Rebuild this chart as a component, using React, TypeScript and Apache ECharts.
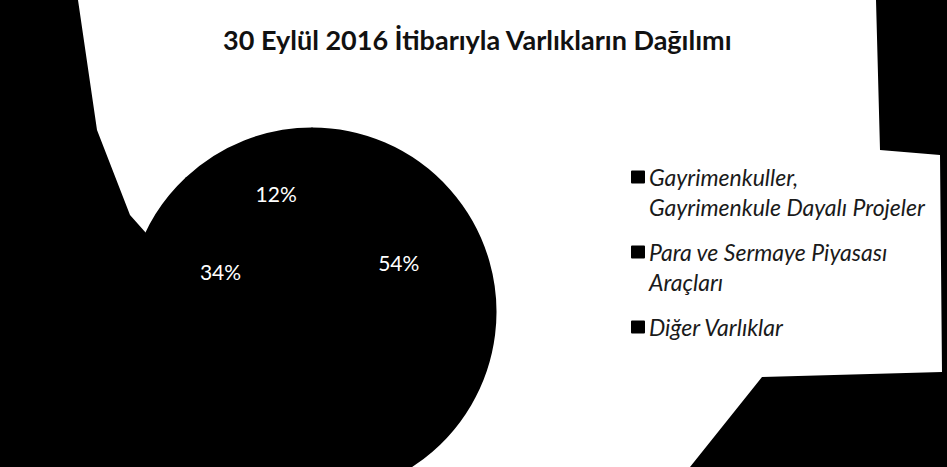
import React, { useEffect, useRef } from "react";
import * as echarts from "echarts";

const titleText = "30 Eylül 2016 İtibarıyla Varlıkların Dağılımı";
const categories = [
  "Gayrimenkuller, Gayrimenkule Dayalı Projeler",
  "Para ve Sermaye Piyasası Araçları",
  "Diğer Varlıklar",
];
const legendLines = [
  ["Gayrimenkuller,", "Gayrimenkule Dayalı Projeler"],
  ["Para ve Sermaye Piyasası", "Araçları"],
  ["Diğer Varlıklar"],
];
const values = [54, 34, 12];
const sliceColors = ["#000000", "#000000", "#000000"];
// small nudges of the in-slice labels, as in the scanned original
const labelNudges = [
  [-7, -61],
  [0, -64],
  [-1, -31],
];

export default function App() {
  const ref = useRef<HTMLDivElement>(null);
  useEffect(() => {
    document.body.style.margin = "0";
    const chart = echarts.init(ref.current!, undefined, { renderer: "svg" });
    chart.setOption({
      animation: false,
      backgroundColor: "#000000",
      title: {
        text: titleText,
        left: 218,
        top: 21,
        textStyle: {
          fontFamily: "Lato",
          fontWeight: "bold",
          fontSize: 27,
          color: "#111111",
        },
      },
      graphic: [
        {
          type: "polygon",
          z: -10,
          shape: {
            points: [
              [78, 0],
              [876, 0],
              [880, 150],
              [940, 155],
              [942, 372],
              [762, 377],
              [690, 467],
              [330, 467],
              [250, 350],
              [130, 215],
              [97, 130],
            ],
          },
          style: { fill: "#ffffff" },
        },
      ],
      legend: {
        orient: "vertical",
        left: 626,
        top: 127,
        itemWidth: 12,
        itemHeight: 11,
        itemGap: -15,
        icon: "rect",
        data: categories,
        formatter: (name: string) => {
          const lines = legendLines[categories.indexOf(name)];
          return lines.length > 1 ? "\n" + lines.join("\n") : "\n" + lines[0] + "\n";
        },
        textStyle: {
          fontFamily: "Lato",
          fontStyle: "italic",
          fontSize: 23,
          lineHeight: 30,
          color: "#1a1a1a",
        },
      },
      series: [
        {
          type: "pie",
          center: [312, 312],
          radius: 183,
          startAngle: 90,
          clockwise: true,
          itemStyle: { borderWidth: 3, borderColor: "#000000", borderJoin: "round" },
          data: categories.map((name, i) => ({
            name,
            value: values[i],
            itemStyle: { color: sliceColors[i] },
          })),
          label: {
            show: true,
            position: "inside",
            formatter: "{d}%",
            fontFamily: "Lato",
            fontSize: 21,
            color: "#ffffff",
          },
          labelLine: { show: false },
          labelLayout: (p: any) => ({
            dx: labelNudges[p.dataIndex][0],
            dy: labelNudges[p.dataIndex][1],
          }),
          emphasis: { disabled: true },
        },
      ],
    });
    return () => chart.dispose();
  }, []);
  return <div ref={ref} style={{ width: 947, height: 467 }} />;
}
